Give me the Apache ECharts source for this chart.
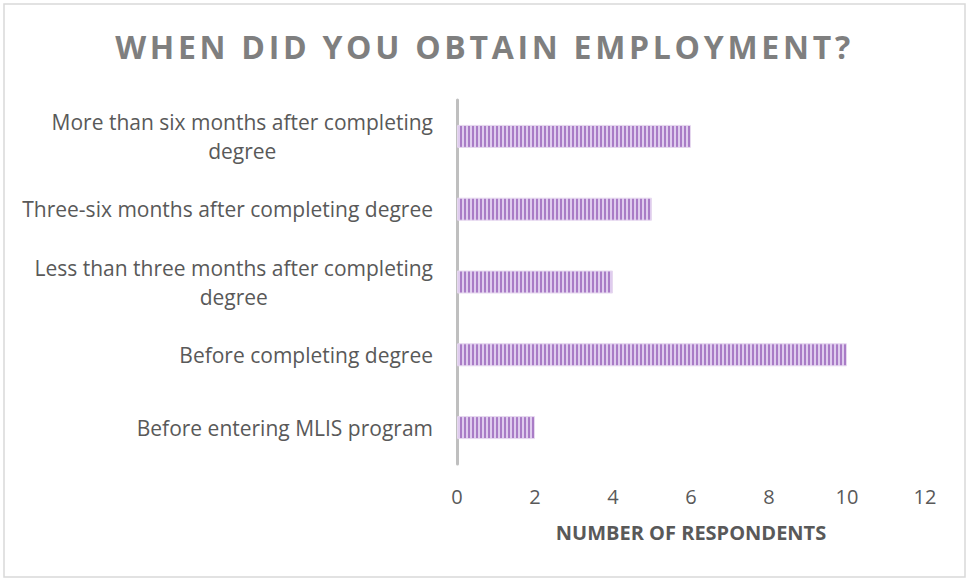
<!DOCTYPE html>
<html>
<head>
<meta charset="utf-8">
<script src="https://cdn.jsdelivr.net/npm/echarts@6/dist/echarts.min.js"></script>
<style>
html,body{margin:0;padding:0;background:#fff;}
#chart{width:969px;height:580px;}
</style>
</head>
<body>
<div id="chart"></div>
<script>
const titleText = 'WHEN DID YOU OBTAIN EMPLOYMENT?';
const categories = [
  'Before entering MLIS program',
  'Before completing degree',
  'Less than three months after completing\ndegree',
  'Three-six months after completing degree',
  'More than six months after completing\ndegree'
];
const values = [2, 10, 4, 5, 6];
const xTicks = [0, 2, 4, 6, 8, 10, 12];
const xAxisName = 'NUMBER OF RESPONDENTS';

// stripe pattern fill
const pc = document.createElement('canvas');
pc.width = 4; pc.height = 4;
const pctx = pc.getContext('2d');
pctx.fillStyle = '#dfccee';
pctx.fillRect(0, 0, 4, 4);
pctx.fillStyle = '#a97cc6';
pctx.fillRect(0, 0, 2, 4);

const chart = echarts.init(document.getElementById('chart'), null, {renderer: 'svg'});
const font = '"Open Sans", sans-serif';
chart.setOption({
  animation: false,
  backgroundColor: '#fff',
  title: {
    text: titleText,
    left: 'center',
    top: 25,
    textStyle: {fontFamily: font, fontSize: 32, fontWeight: 'bold', color: '#7f7f7f'}
  },
  graphic: [{
    type: 'rect',
    shape: {x: 4, y: 4, width: 961, height: 573},
    style: {fill: 'none', stroke: '#d9d9d9', lineWidth: 1.5},
    silent: true
  }],
  grid: {left: 457, right: 44, top: 100, bottom: 116, containLabel: false},
  xAxis: {
    type: 'value',
    min: xTicks[0],
    max: xTicks[xTicks.length - 1],
    interval: xTicks[1] - xTicks[0],
    name: xAxisName,
    nameLocation: 'middle',
    nameGap: 58,
    nameTextStyle: {fontFamily: font, fontSize: 20, fontWeight: 'bold', color: '#595959'},
    axisLine: {show: false},
    axisTick: {show: false},
    splitLine: {show: false},
    axisLabel: {fontFamily: font, fontSize: 20, color: '#595959', margin: 22}
  },
  yAxis: {
    type: 'category',
    data: categories,
    axisLine: {show: true, lineStyle: {color: '#bfbfbf', width: 3}},
    axisTick: {show: false},
    axisLabel: {
      margin: 24,
      align: 'right',
      formatter: function (v) {
        return v.split('\n').map(function (s) { return '{a|' + s + '}'; }).join('\n');
      },
      rich: {
        a: {fontFamily: font, fontSize: 21, color: '#595959', align: 'center', lineHeight: 29}
      }
    }
  },
  series: [{
    type: 'bar',
    data: values,
    barWidth: 23,
    itemStyle: {color: {image: pc, repeat: 'repeat'}, borderColor: '#e6d8ef', borderWidth: 1}
  }]
});

// letter-spacing for title (SVG)
function spaceTitle() {
  const texts = document.querySelectorAll('#chart svg text');
  texts.forEach(function (t) {
    if (t.textContent === titleText) {
      t.setAttribute('letter-spacing', '3.7px');
    }
  });
}
spaceTitle();
chart.on('finished', spaceTitle);
</script>
</body>
</html>
